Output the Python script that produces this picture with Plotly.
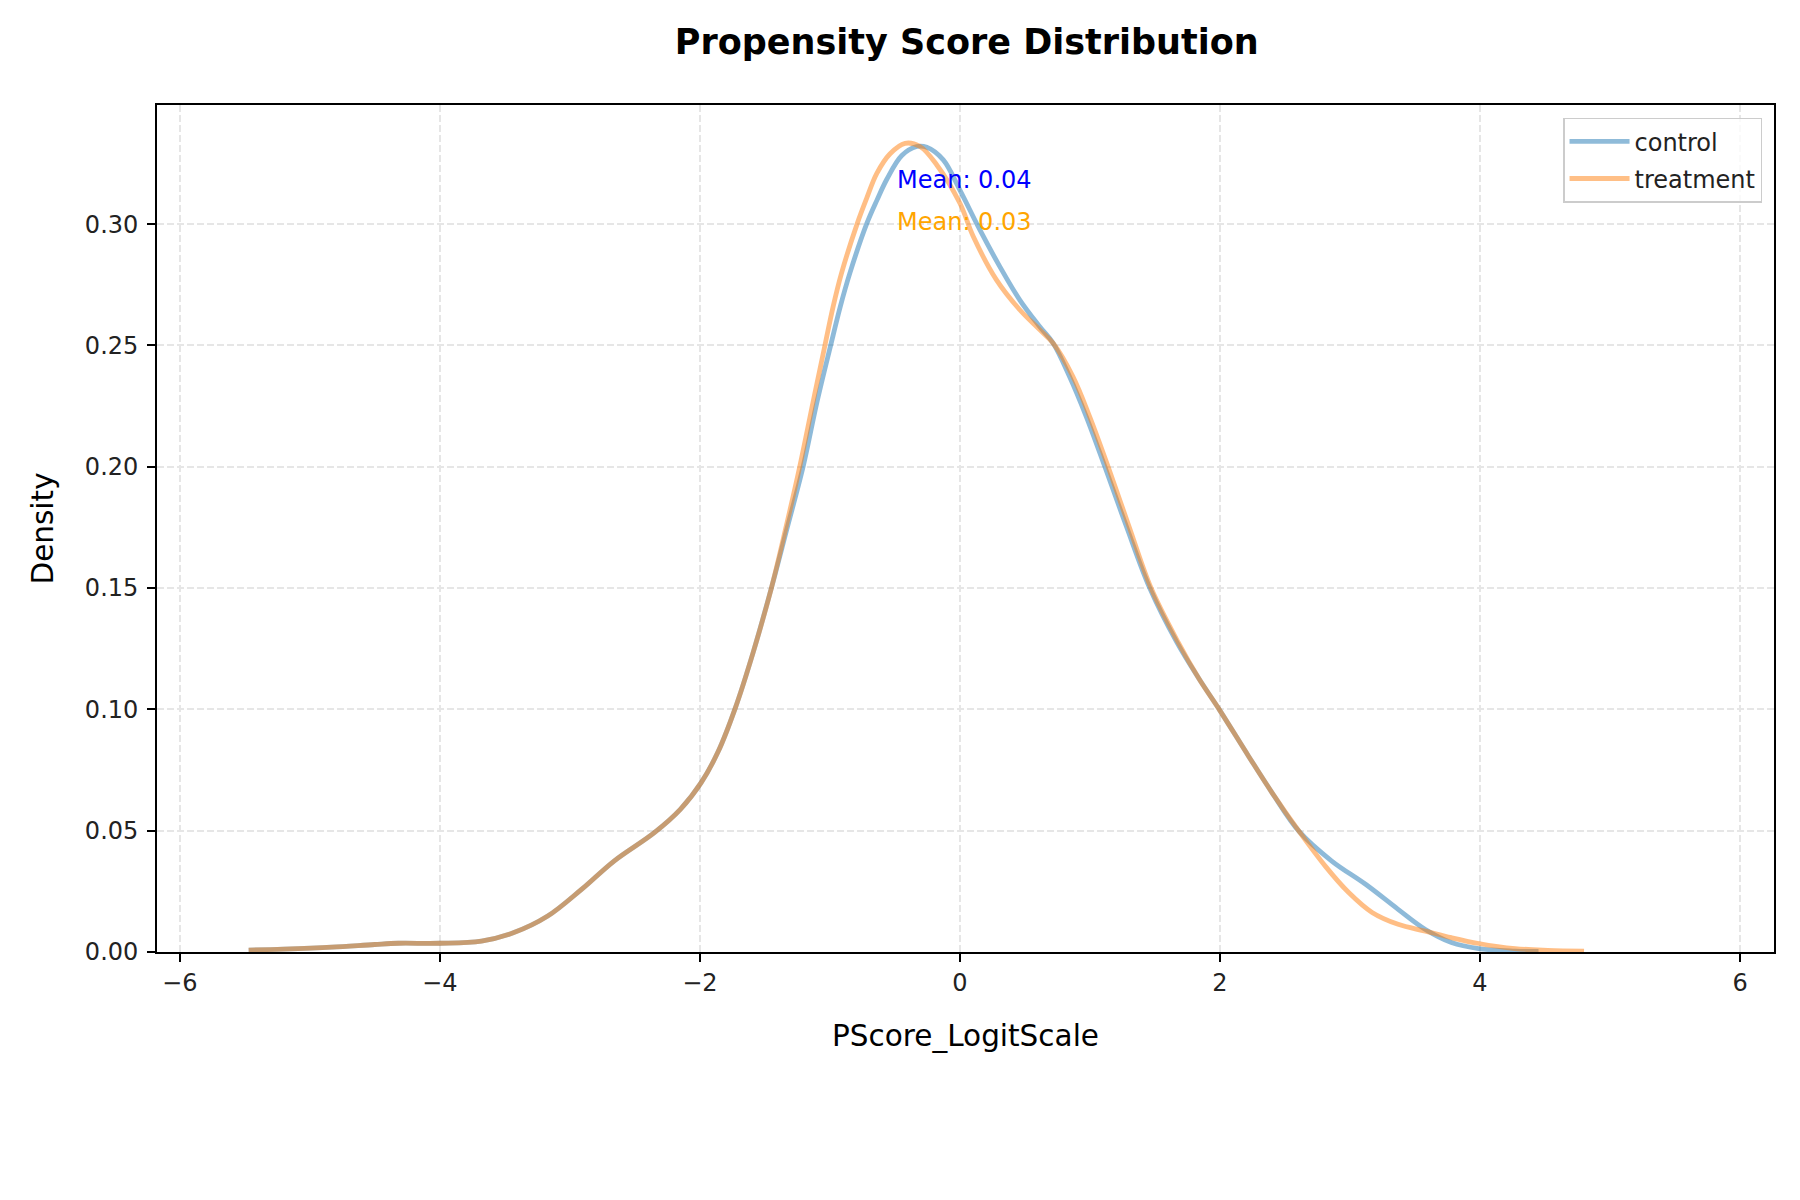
import plotly.graph_objects as go

# KDE curves (x on logit scale, y density)
control_x = [-5.47, -5.2, -4.83, -4.5, -4.32, -4.0, -3.68, -3.43, -3.17, -2.91, -2.66, -2.35, -2.15, -1.99,
             -1.86, -1.731, -1.59, -1.45, -1.33, -1.206, -1.10, -0.995, -0.92, -0.847, -0.718, -0.637,
             -0.562, -0.447, -0.332, -0.255, -0.128, 0.0, 0.153, 0.307, 0.461, 0.613, 0.716, 0.843, 0.971,
             1.115, 1.28, 1.46, 1.67, 1.84, 2.0, 2.22, 2.40, 2.61, 2.86, 3.12, 3.37, 3.58, 3.78, 3.99, 4.27,
             4.45]
control_y = [0.0008, 0.0012, 0.0020, 0.0031, 0.0036, 0.0036, 0.0045, 0.0080, 0.0148, 0.0258, 0.0375, 0.0492,
             0.0588, 0.0698, 0.0825, 0.100, 0.1235, 0.150, 0.1745, 0.200, 0.2265, 0.2498, 0.266, 0.2797,
             0.300, 0.310, 0.3185, 0.3283, 0.332, 0.3317, 0.3265, 0.314, 0.2977, 0.2825, 0.2687, 0.2578,
             0.251, 0.2372, 0.2208, 0.200, 0.1755, 0.150, 0.1275, 0.1125, 0.0995, 0.0807, 0.0657, 0.0496,
             0.0375, 0.0279, 0.0176, 0.0093, 0.0039, 0.0014, 0.0004, 0.0002]

treatment_x = [-5.47, -5.2, -4.83, -4.5, -4.32, -4.0, -3.68, -3.43, -3.17, -2.91, -2.66, -2.35, -2.15, -1.99,
               -1.86, -1.731, -1.59, -1.45, -1.34, -1.232, -1.13, -1.039, -0.975, -0.911, -0.791, -0.718,
               -0.639, -0.537, -0.422, -0.307, -0.179, 0.0, 0.102, 0.281, 0.46, 0.613, 0.716, 0.869, 0.997,
               1.14, 1.30, 1.47, 1.68, 1.84, 2.0, 2.22, 2.40, 2.61, 2.81, 2.99, 3.17, 3.37, 3.58, 3.78, 3.99,
               4.27, 4.52, 4.80]
treatment_y = [0.0008, 0.0012, 0.0020, 0.0031, 0.0036, 0.0036, 0.0045, 0.0080, 0.0148, 0.0258, 0.0375, 0.0492,
               0.0588, 0.0698, 0.0825, 0.100, 0.1235, 0.150, 0.1745, 0.200, 0.2265, 0.2498, 0.266, 0.2797,
               0.300, 0.3105, 0.3209, 0.329, 0.3333, 0.332, 0.3245, 0.3086, 0.295, 0.277, 0.2647, 0.2565,
               0.251, 0.2372, 0.2208, 0.200, 0.1755, 0.150, 0.1275, 0.1125, 0.0995, 0.0807, 0.0657, 0.0496,
               0.0354, 0.0245, 0.0163, 0.0114, 0.0086, 0.0059, 0.0035, 0.0014, 0.0007, 0.0004]

mean_labels = ["Mean: 0.04", "Mean: 0.03"]
mean_label_y = [0.3183, 0.301]

x_ticks = [-6, -4, -2, 0, 2, 4, 6]
y_ticks = [0.0, 0.05, 0.10, 0.15, 0.20, 0.25, 0.30]

FONT = "DejaVu Sans"

fig = go.Figure()
fig.add_trace(go.Scatter(x=control_x, y=control_y, mode="lines", name="control",
                         line=dict(color="#1f77b4", width=4.8, shape="spline", smoothing=1.0),
                         opacity=0.5, legendgroup="c"))
fig.add_trace(go.Scatter(x=treatment_x, y=treatment_y, mode="lines", name="treatment",
                         line=dict(color="#ff7f0e", width=4.8, shape="spline", smoothing=1.0),
                         opacity=0.5, legendgroup="t"))

for txt, yv, col in zip(mean_labels, mean_label_y, ["blue", "orange"]):
    fig.add_annotation(x=-0.5, y=yv, text=txt, showarrow=False, xanchor="left", yanchor="middle",
                       font=dict(family=FONT, size=24, color=col))

axis_common = dict(showline=True, linecolor="black", linewidth=1.8, mirror=True,
                   ticks="outside", ticklen=8, tickwidth=1.8, tickcolor="black",
                   showgrid=True, gridcolor="#e6e6e6", gridwidth=1.8, griddash="7px,3px",
                   zeroline=False, tickfont=dict(family=FONT, size=24, color="#222222"))

fig.update_xaxes(range=[-6.175, 6.261], tickvals=x_ticks,
                 title=dict(text="PScore_LogitScale", font=dict(family=FONT, size=29.5, color="black"),
                            standoff=30),
                 ticklabelstandoff=0, **axis_common)
fig.update_yaxes(range=[0, 0.3491], tickvals=y_ticks, tickformat=".2f",
                 title=dict(text="Density", font=dict(family=FONT, size=29.5, color="black"), standoff=23),
                 ticklabelstandoff=4, **axis_common)

# page body has an 8px margin, so the figure is 8px smaller than the window
fig.update_layout(
    width=1792, height=1192,
    margin=dict(l=149, r=26, t=97, b=248),
    plot_bgcolor="white", paper_bgcolor="white",
    title=dict(text="<b>Propensity Score Distribution</b>", x=0.535, xref="container", xanchor="center",
               y=1 - 34 / 1192, yanchor="middle", font=dict(family=FONT, size=35, color="black")),
    legend=dict(x=0.9926, y=0.985, xanchor="right", yanchor="top", bgcolor="rgba(255,255,255,0.8)",
                bordercolor="#cccccc", borderwidth=1.5, font=dict(family=FONT, size=24, color="#222222"),
                tracegroupgap=3, itemwidth=60),
    showlegend=True,
)

fig.write_html("out.html")
